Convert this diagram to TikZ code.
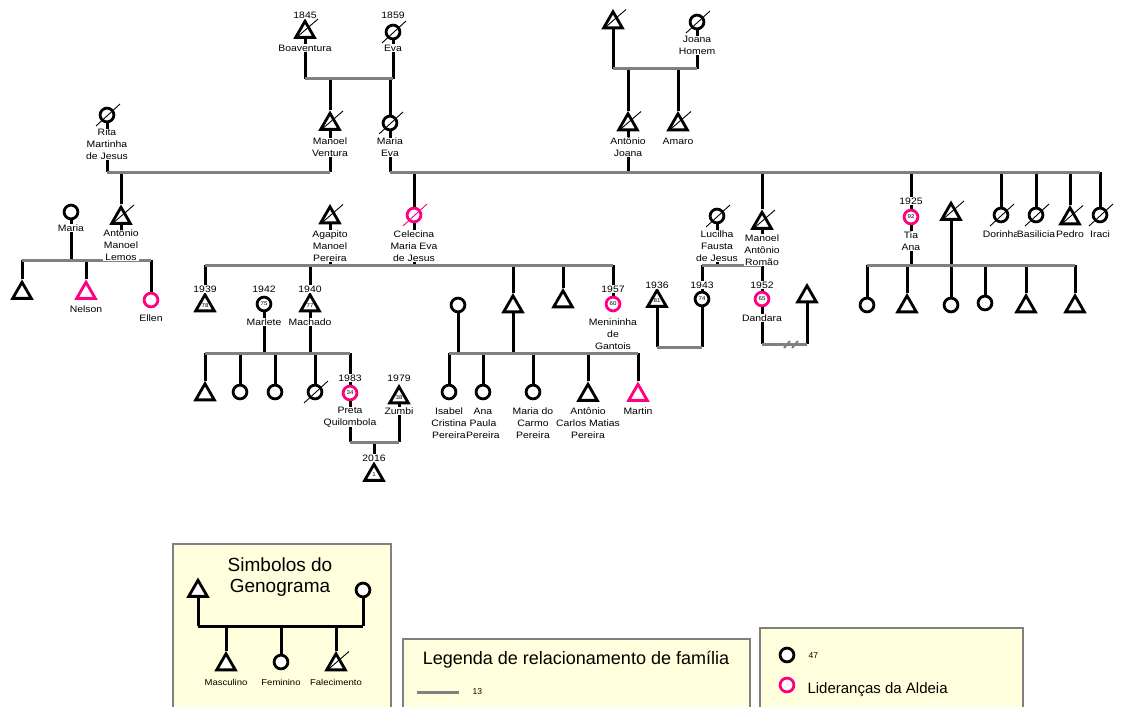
\documentclass[tikz,border=0pt]{standalone}
\usepackage{fontspec}
\setmainfont{Liberation Sans}
\newfontfamily\labfont{Liberation Sans}[FakeStretch=1.12]
\usetikzlibrary{shapes.geometric,calc}
\definecolor{pk}{RGB}{255,0,128}
\definecolor{gl}{RGB}{128,128,128}
\definecolor{ly}{RGB}{255,255,221}
\newcommand\deadc[2][black]{\draw[sl,#1] ($(#2.center)+(-11,11)$) -- ($(#2.center)+(13,-11)$);}
\newcommand\deadt[2][black]{\draw[sl,#1] ($(#2.center)+(-9,6)$) -- ($(#2.center)+(13,-13)$);}
\begin{document}
\begin{tikzpicture}[x=1pt,y=-1pt,
 ma/.style={draw, regular polygon, regular polygon sides=3, minimum size=21.5pt, inner sep=0pt, line width=2.8pt, fill=white, font=\labfont\fontsize{5.5}{6}\selectfont, text=black},
 fe/.style={draw, circle, minimum size=13.8pt, inner sep=0pt, line width=2.8pt, fill=white, font=\labfont\fontsize{5.5}{6}\selectfont, text=black},
 lead/.style={draw=pk},
 lab/.style={font=\labfont\fontsize{9.3}{12}\selectfont, align=center, fill=white, inner sep=0.3pt},
 ln/.style={line width=3pt, black},
 rl/.style={line width=3pt, gl},
 sl/.style={line width=0.9pt, black},
 box/.style={fill=ly, draw=gl, line width=1.3pt},
]
\useasboundingbox (0,0) rectangle (1123,706);
\fill[white] (0,0) rectangle (1123,706);

% ---------- symbols ----------
\node[ma] (bo) at (305,32) {};
\node[fe] (ev) at (393,32) {};
\node[ma] (tl) at (613,22.5) {};
\node[fe] (jh) at (697,22) {};
\node[ma] (mv) at (330,124) {};
\node[fe] (me) at (390,123) {};
\node[fe] (ri) at (107,115) {};
\node[ma] (aj) at (628,124.5) {};
\node[ma] (am) at (678,124.5) {};
\node[fe] (ma) at (71,212) {};
\node[ma] (al) at (121,218) {};
\node[ma] (c1) at (22,293) {};
\node[ma,lead] (ne) at (86,293) {};
\node[fe,lead] (el) at (151,300) {};
\node[ma] (ag) at (330,217.5) {};
\node[fe,lead] (ce) at (414,215) {};
\node[ma] (b39) at (205,305.5) {78};
\node[fe] (mt) at (264,304) {75};
\node[ma] (mc) at (310,305.5) {77};
\node[fe] (x0) at (458,305) {};
\node[ma] (x1) at (513,306.5) {};
\node[ma] (x2) at (563,301.5) {};
\node[fe,lead] (mg) at (613,304) {60};
\node[ma] (g1) at (205,394.5) {};
\node[fe] (g2) at (240,392) {};
\node[fe] (g3) at (275,392) {};
\node[fe] (g4) at (315,392) {};
\node[fe,lead] (pq) at (350,393) {34};
\node[ma] (zu) at (399,397.5) {38};
\node[ma] (bb) at (374,475) {1};
\node[fe] (is) at (449,392) {};
\node[fe] (ap) at (483,392) {};
\node[fe] (mdc) at (533,392) {};
\node[ma] (acm) at (588,395) {};
\node[ma,lead] (mar) at (638,395) {};
\node[fe] (lu) at (717,216) {};
\node[ma] (ro) at (762,223) {};
\node[ma] (t36) at (657,301) {81};
\node[fe] (c43) at (702,299) {74};
\node[fe,lead] (da) at (762,299) {65};
\node[ma] (t07) at (807,296.5) {};
\node[fe,lead] (ta) at (911,217) {92};
\node[ma] (tr) at (951,214) {};
\node[fe] (r1) at (867,305) {};
\node[ma] (r2) at (907,306.5) {};
\node[fe] (r3) at (951,305) {};
\node[fe] (r4) at (985,303) {};
\node[ma] (r5) at (1026,306.5) {};
\node[ma] (r6) at (1075,306.5) {};
\node[fe] (do) at (1001,215) {};
\node[fe] (bs) at (1036,215) {};
\node[ma] (pe) at (1070,218.5) {};
\node[fe] (ir) at (1100,215) {};

% deceased marks
\deadt{bo} \deadc{ev} \deadt{tl} \deadc{jh} \deadt{mv} \deadc{me} \deadc{ri}
\deadt{aj} \deadt{am} \deadt{al} \deadt{ag} \deadc[pk]{ce} \deadc{g4}
\deadc{lu} \deadt{ro} \deadt{tr} \deadc{do} \deadc{bs} \deadt{pe} \deadc{ir}

% ---------- relationship lines ----------
\coordinate (m1) at (0,79);
\draw[ln] (bo.south) -- (bo.south|-m1);
\draw[ln] (ev.south) -- (ev.south|-m1);
\draw[ln] (mv.north) -- (mv.north|-m1);
\draw[ln] (me.north) -- (me.north|-m1);
\draw[rl] (bo.south|-m1) -- (ev.south|-m1);

\coordinate (m4) at (0,69);
\draw[ln] (tl.south) -- (tl.south|-m4);
\draw[ln] (jh.south) -- (jh.south|-m4);
\draw[ln] (aj.north) -- (aj.north|-m4);
\draw[ln] (am.north) -- (am.north|-m4);
\draw[rl] (tl.south|-m4) -- (jh.south|-m4);

\coordinate (m2) at (0,172);
\draw[ln] (ri.south) -- (ri.south|-m2);
\draw[ln] (mv.south) -- (mv.south|-m2);
\draw[ln] (al.north) -- (al.north|-m2);
\draw[rl] (ri.south|-m2) -- (mv.south|-m2);

\draw[ln] (me.south) -- (me.south|-m2);
\draw[ln] (aj.south) -- (aj.south|-m2);
\foreach \n in {ce,ro,ta,do,bs,pe,ir} {\draw[ln] (\n.north) -- (\n.north|-m2);}
\draw[rl] (me.south|-m2) -- (ir.north|-m2);

\coordinate (m5) at (0,260);
\draw[ln] (ma.south) -- (ma.south|-m5);
\draw[ln] (al.south) -- (al.south|-m5);
\foreach \n in {c1,ne,el} {\draw[ln] (\n.north) -- (\n.north|-m5);}
\draw[rl] (c1.north|-m5) -- (el.north|-m5);

\coordinate (m6) at (0,265);
\draw[ln] (ag.south) -- (ag.south|-m6);
\draw[ln] (ce.south) -- (ce.south|-m6);
\foreach \n in {b39,mc,x1,x2,mg} {\draw[ln] (\n.north) -- (\n.north|-m6);}
\draw[rl] (b39.north|-m6) -- (mg.north|-m6);

\coordinate (m7) at (0,353);
\draw[ln] (mt.south) -- (mt.south|-m7);
\draw[ln] (mc.south) -- (mc.south|-m7);
\foreach \n in {g1,g2,g3,g4,pq} {\draw[ln] (\n.north) -- (\n.north|-m7);}
\draw[rl] (g1.north|-m7) -- (pq.north|-m7);

\coordinate (m8) at (0,442);
\draw[ln] (pq.south) -- (pq.south|-m8);
\draw[ln] (zu.south) -- (zu.south|-m8);
\draw[ln] (bb.north) -- (bb.north|-m8);
\draw[rl] (pq.south|-m8) -- (zu.south|-m8);

\coordinate (m9) at (0,353);
\draw[ln] (x0.south) -- (x0.south|-m9);
\draw[ln] (x1.south) -- (x1.south|-m9);
\foreach \n in {is,ap,mdc,acm,mar} {\draw[ln] (\n.north) -- (\n.north|-m9);}
\draw[rl] (is.north|-m9) -- (mar.north|-m9);

\coordinate (m10) at (0,265);
\draw[ln] (lu.south) -- (lu.south|-m10);
\draw[ln] (ro.south) -- (da.north);
\draw[ln] (c43.north) -- (c43.north|-m10);
\draw[rl] (c43.north|-m10) -- (ro.south|-m10);

\coordinate (m11) at (0,347);
\draw[ln] (t36.south) -- (t36.south|-m11);
\draw[ln] (c43.south) -- (c43.south|-m11);
\draw[rl] (t36.south|-m11) -- (c43.south|-m11);

\coordinate (m12) at (0,344);
\draw[ln] (da.south) -- (da.south|-m12);
\draw[ln] (t07.south) -- (t07.south|-m12);
\draw[rl] (da.south|-m12) -- (t07.south|-m12);
\coordinate (dv) at (791,344);
\draw[gl, line width=2pt] ($(dv)+(-7,4)$) -- ($(dv)+(-1,-3)$);
\draw[gl, line width=2pt] ($(dv)+(1,4)$) -- ($(dv)+(7,-3)$);

\coordinate (m13) at (0,265);
\draw[ln] (ta.south) -- (ta.south|-m13);
\draw[ln] (tr.south) -- (tr.south|-m13);
\foreach \n in {r1,r2,r3,r4,r5,r6} {\draw[ln] (\n.north) -- (\n.north|-m13);}
\draw[rl] (r1.north|-m13) -- (r6.north|-m13);

% ---------- labels ----------
\node[lab] (bo-y) at (305,15) {1845};
\node[lab] (bo-l) at (305,48) {Boaventura};
\node[lab] (ev-y) at (393,15) {1859};
\node[lab] (ev-l) at (393,48) {Eva};
\node[lab] (jh-l) at (697,45.5) {Joana\\Homem};
\node[lab] (mv-l) at (330,147.5) {Manoel\\Ventura};
\node[lab] (me-l) at (390,147.5) {Maria\\Eva};
\node[lab] (ri-l) at (107,144.5) {Rita\\Martinha\\de Jesus};
\node[lab] (aj-l) at (628,147) {Antônio\\Joana};
\node[lab] (am-l) at (678,141) {Amaro};
\node[lab] (ma-l) at (71,228) {Maria};
\node[lab] (al-l) at (121,245.5) {Antônio\\Manoel\\Lemos};
\node[lab] (ne-l) at (86,309) {Nelson};
\node[lab] (el-l) at (151,318) {Ellen};
\node[lab] (ag-l) at (330,246) {Agapito\\Manoel\\Pereira};
\node[lab] (ce-l) at (414,246) {Celecina\\Maria Eva\\de Jesus};
\node[lab] (b39-y) at (205,289) {1939};
\node[lab] (mt-y) at (264,289) {1942};
\node[lab] (mc-y) at (310,289) {1940};
\node[lab] (mt-l) at (264,322) {Marlete};
\node[lab] (mc-l) at (310,322) {Machado};
\node[lab] (mg-y) at (613,289) {1957};
\node[lab] (mg-l) at (613,334) {Menininha\\de\\Gantois};
\node[lab] (pq-y) at (350,378) {1983};
\node[lab] (pq-l) at (350,417) {Preta\\Quilombola};
\node[lab] (zu-y) at (399,378) {1979};
\node[lab] (zu-l) at (399,411) {Zumbi};
\node[lab] (bb-y) at (374,458) {2016};
\node[lab] (is-l) at (449,423) {Isabel\\Cristina\\Pereira};
\node[lab] (ap-l) at (483,423) {Ana\\Paula\\Pereira};
\node[lab] (mdc-l) at (533,423) {Maria do\\Carmo\\Pereira};
\node[lab] (acm-l) at (588,423) {Antônio\\Carlos Matias\\Pereira};
\node[lab] (mar-l) at (638,411) {Martin};
\node[lab] (lu-l) at (717,246) {Lucilha\\Fausta\\de Jesus};
\node[lab] (ro-l) at (762,250) {Manoel\\Antônio\\Romão};
\node[lab] (t36-y) at (657,285) {1936};
\node[lab] (c43-y) at (702,285) {1943};
\node[lab] (da-y) at (762,285) {1952};
\node[lab] (da-l) at (762,318) {Dandara};
\node[lab] (ta-y) at (911,201) {1925};
\node[lab] (ta-l) at (911,241) {Tia\\Ana};
\node[lab] (do-l) at (1001,234) {Dorinha};
\node[lab] (bs-l) at (1036,234) {Basilicia};
\node[lab] (pe-l) at (1070,234) {Pedro};
\node[lab] (ir-l) at (1100,234) {Iraci};

% ---------- legend 1 ----------
\path[box] (173,712) rectangle (391,544);
\node[font=\fontsize{19}{21}\selectfont, align=center] (lg1-t) at (280,577.5) {Simbolos do\\Genograma};
\node[ma] (lt) at (198,591) {};
\node[fe] (lc) at (363,590) {};
\node[ma] (lm) at (226,664.5) {};
\node[fe] (lf) at (281,662) {};
\node[ma] (lx) at (336,664.5) {};
\deadt{lx}
\coordinate (m14) at (0,626);
\draw[ln] (lt.south) -- (lt.south|-m14);
\draw[ln] (lc.south) -- (lc.south|-m14);
\foreach \n in {lm,lf,lx} {\draw[ln] (\n.north) -- (\n.north|-m14);}
\draw[ln] (lt.south|-m14) -- (lc.south|-m14);
\node[font=\labfont\fontsize{8.5}{10}\selectfont] (lm-l) at (226,682) {Masculino};
\node[font=\labfont\fontsize{8.5}{10}\selectfont] (lf-l) at (281,682) {Feminino};
\node[font=\labfont\fontsize{8.5}{10}\selectfont] (lx-l) at (336,682) {Falecimento};

% ---------- legend 2 ----------
\path[box] (403,712) rectangle (750,639);
\node[font=\fontsize{18}{20}\selectfont] (lg2-t) at (576,660) {Legenda de relacionamento de família};
\coordinate (k1) at (417,692);
\coordinate (k2) at (459,692);
\draw[rl] (k1) -- (k2);
\node[font=\fontsize{8.5}{9}\selectfont, anchor=west] (k-13) at (469,692) {13};

% ---------- legend 3 ----------
\path[box] (760,712) rectangle (1023,628);
\node[fe] (lb) at (787,655) {};
\node[fe,lead] (lp) at (787,685) {};
\node[font=\fontsize{8.5}{9}\selectfont, anchor=west] (lb-l) at (805,656) {47};
\node[font=\fontsize{15}{17}\selectfont, anchor=west] (lp-l) at (804,690) {Lideranças da Aldeia};
\end{tikzpicture}
\end{document}
